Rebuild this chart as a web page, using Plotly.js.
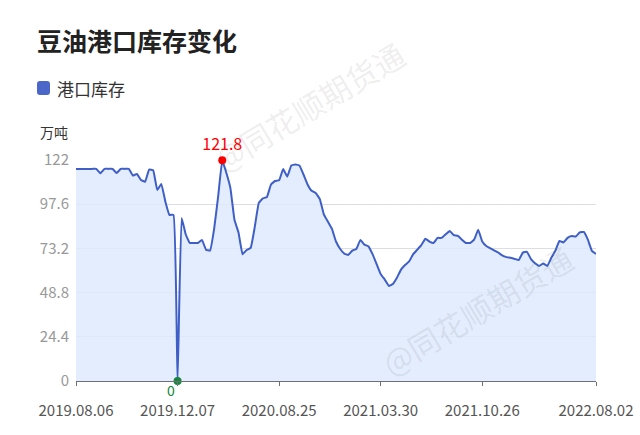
<!DOCTYPE html>
<html>
<head>
<meta charset="utf-8">
<script src="https://cdn.plot.ly/plotly-3.0.1.min.js"></script>
<style>html,body{margin:0;padding:0;background:#fff;}#chart{width:640px;height:435px;}</style>
</head>
<body>
<div id="chart"></div>
<script>
// Tick labels (category positions 0,25,50,75,100,128)
const tickLabels = ["2019.08.06", "2019.12.07", "2020.08.25", "2021.03.30", "2021.10.26", "2022.08.02"];
const tickIndex = [0, 25, 50, 75, 100, 128];
const yTicks = [0, 24.4, 48.8, 73.2, 97.6, 122];
const seriesName = "港口库存";
// 港口库存 (万吨), one value per reporting date
const stock = [
  117.1, 117.1, 117.1, 117.1, 117.1, 117.1, 114.7, 117.1, 117.1, 117.1,
  114.8, 117.1, 117.1, 117.1, 113.4, 114.3, 111.0, 110.0, 116.7, 116.3,
  105.5, 108.8, 99.0, 91.7, 91.7, 0, 90.0, 81.0, 76.2, 76.2,
  76.2, 77.9, 72.5, 72.0, 84.0, 102.0, 121.8, 115.0, 106.6, 89.0,
  82.0, 70.0, 72.3, 73.5, 85.0, 98.3, 100.8, 101.6, 108.5, 110.4,
  110.8, 117.0, 112.8, 119.0, 119.5, 119.0, 114.0, 108.5, 105.0, 103.8,
  100.5, 92.0, 88.0, 84.0, 77.0, 73.0, 70.4, 69.6, 72.0, 72.9,
  77.9, 75.3, 74.3, 70.0, 64.5, 59.0, 56.0, 52.5, 53.6, 57.0,
  61.5, 64.0, 66.0, 70.0, 72.5, 75.0, 78.5, 77.0, 76.2, 79.0,
  79.0, 81.0, 82.8, 80.5, 80.1, 78.0, 76.2, 76.2, 78.0, 83.5,
  77.0, 74.5, 73.2, 72.0, 70.8, 69.2, 68.4, 68.0, 67.4, 66.8,
  70.9, 71.3, 67.3, 65.0, 63.5, 64.9, 63.5, 68.0, 72.0, 77.3,
  76.5, 79.0, 80.0, 79.8, 82.0, 82.3, 78.0, 71.8, 70.1
];

const xs = stock.map((v, i) => i);
const maxV = Math.max(...stock), minV = Math.min(...stock);
const maxI = stock.indexOf(maxV), minI = stock.indexOf(minV);

const lineColor = "#3f5fc6";
const cjk = "'Noto Sans CJK SC', 'Noto Sans', sans-serif";

const traces = [
  {
    x: xs, y: stock, type: "scatter", mode: "lines", name: seriesName,
    line: {color: lineColor, width: 2, shape: "spline", smoothing: 0.3},
    fill: "tozeroy", fillcolor: "rgba(222,234,253,0.85)",
    hoverinfo: "x+y", showlegend: false
  },
  {
    x: [maxI], y: [maxV], type: "scatter", mode: "markers+text",
    marker: {color: "#ff0000", size: 8},
    text: [String(maxV)], textposition: "top center",
    textfont: {color: "#ff0000", size: 16, family: cjk},
    showlegend: false, cliponaxis: false, hoverinfo: "skip"
  },
  {
    x: [minI], y: [minV], type: "scatter", mode: "markers",
    marker: {color: "#14873a", size: 8},
    showlegend: false, cliponaxis: false, hoverinfo: "skip"
  }
];

const pw = 520, ph = 221, l = 76, t = 160;
function px2x(px) { return (px - l) / pw; }
function py2y(py) { return (t + ph - py) / ph; }

// rounded legend swatch path (paper coords)
function roundRect(x0, y0, x1, y1, r) {
  const X = px2x, Y = py2y;
  return "M" + X(x0 + r) + "," + Y(y0) +
    " L" + X(x1 - r) + "," + Y(y0) + " Q" + X(x1) + "," + Y(y0) + " " + X(x1) + "," + Y(y0 + r) +
    " L" + X(x1) + "," + Y(y1 - r) + " Q" + X(x1) + "," + Y(y1) + " " + X(x1 - r) + "," + Y(y1) +
    " L" + X(x0 + r) + "," + Y(y1) + " Q" + X(x0) + "," + Y(y1) + " " + X(x0) + "," + Y(y1 - r) +
    " L" + X(x0) + "," + Y(y0 + r) + " Q" + X(x0) + "," + Y(y0) + " " + X(x0 + r) + "," + Y(y0) + " Z";
}

const wm = {family: cjk, size: 31, color: "rgba(0,0,0,0.085)"};

const layout = {
  width: 640, height: 435,
  margin: {l: l, r: 44, t: t, b: 54},
  paper_bgcolor: "#ffffff", plot_bgcolor: "#ffffff",
  font: {family: cjk},
  title: {
    text: "豆油港口库存变化", x: 37 / 640, xanchor: "left", xref: "container",
    y: 1 - 42 / 435, yanchor: "middle", yref: "container",
    font: {family: cjk, size: 25, color: "#222222", weight: "bold"}
  },
  xaxis: {
    range: [0, stock.length - 1], tickmode: "array", tickvals: tickIndex, ticktext: tickLabels,
    showgrid: false, zeroline: false, showline: true, linecolor: "#6e7079", linewidth: 1,
    ticks: "outside", ticklen: 4, tickcolor: "#6e7079",
    ticklabelstandoff: 12,
    tickfont: {size: 15, color: "#555555", family: cjk}
  },
  yaxis: {
    range: [0, 122], tickmode: "array", tickvals: yTicks, ticktext: yTicks.map(String),
    showgrid: true, gridcolor: "#dcdee3", gridwidth: 1, zeroline: false, showline: false,
    ticks: "", ticklabelstandoff: 6,
    tickfont: {size: 15, color: "#999999", family: cjk}
  },
  shapes: [
    {type: "path", xref: "paper", yref: "paper", path: roundRect(37, 81, 50, 95, 3),
     fillcolor: "#4a66c8", line: {width: 0}}
  ],
  annotations: [
    {text: seriesName, xref: "paper", yref: "paper", x: px2x(55), y: py2y(88),
     xanchor: "left", yanchor: "middle", showarrow: false,
     font: {family: cjk, size: 17, color: "#333333"}},
    {text: "万吨", xref: "paper", yref: "paper", x: px2x(38), y: py2y(132),
     xanchor: "left", yanchor: "middle", showarrow: false,
     font: {family: cjk, size: 14, color: "#333333"}},
    {text: String(minV), xref: "x", yref: "paper", x: minI, y: py2y(390),
     xanchor: "center", yanchor: "middle", xshift: -7, showarrow: false, borderpad: 0,
     font: {family: cjk, size: 14, color: "#14873a"}},
    {text: "@同花顺期货通", xref: "paper", yref: "paper", x: px2x(308), y: py2y(106),
     xanchor: "center", yanchor: "middle", textangle: -31, showarrow: false, font: wm},
    {text: "@同花顺期货通", xref: "paper", yref: "paper", x: px2x(476), y: py2y(310),
     xanchor: "center", yanchor: "middle", textangle: -31, showarrow: false, font: wm}
  ]
};

Plotly.newPlot("chart", traces, layout, {displayModeBar: false, staticPlot: true});
</script>
</body>
</html>
